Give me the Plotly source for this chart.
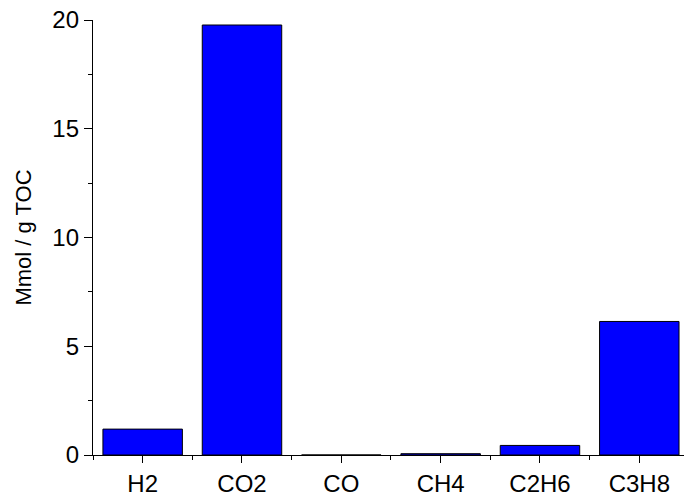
import plotly.graph_objects as go

# Gas yields per gram of total organic carbon
gases = ["H2", "CO2", "CO", "CH4", "C2H6", "C3H8"]
yields = [1.19, 19.77, 0.0, 0.06, 0.44, 6.14]

positions = list(range(len(gases)))

fig = go.Figure(
    go.Bar(
        x=positions,
        y=yields,
        width=0.8,
        marker=dict(color="#0000FF", line=dict(color="#000000", width=1)),
    )
)

tick_font = dict(family="Liberation Sans, Arial, sans-serif", size=24, color="#000000")
title_font = dict(family="Liberation Sans, Arial, sans-serif", size=22, color="#000000")

fig.update_layout(
    width=684,
    height=496,
    margin=dict(l=93, r=0, t=20, b=41),
    paper_bgcolor="white",
    plot_bgcolor="white",
    showlegend=False,
    font=tick_font,
    xaxis=dict(
        range=[-0.5, 5.45],
        tickvals=positions,
        ticktext=gases,
        showline=True,
        linecolor="black",
        linewidth=1.3,
        ticks="outside",
        ticklen=7,
        tickwidth=1.3,
        tickcolor="black",
        showgrid=False,
        zeroline=False,
        minor=dict(tick0=0.5, dtick=1, ticks="outside", ticklen=4,
                   tickwidth=1.3, tickcolor="black", showgrid=False),
        tickfont=tick_font,
    ),
    yaxis=dict(
        range=[0, 20],
        tick0=0,
        dtick=5,
        showline=True,
        linecolor="black",
        linewidth=1.3,
        ticks="outside",
        ticklen=8,
        tickwidth=1.3,
        tickcolor="black",
        showgrid=False,
        zeroline=False,
        minor=dict(dtick=2.5, ticks="outside", ticklen=4,
                   tickwidth=1.3, tickcolor="black", showgrid=False),
        tickfont=tick_font,
        title=dict(text="Mmol / g TOC", font=title_font, standoff=14),
    ),
)

fig.write_html("out.html")
